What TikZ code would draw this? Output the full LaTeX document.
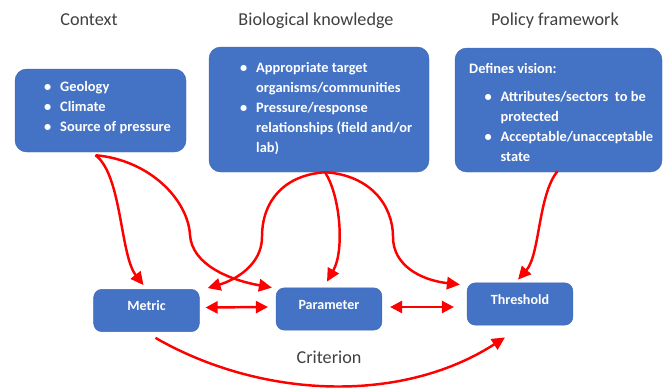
\documentclass[tikz,border=0pt]{standalone}
\usepackage{fontspec}
\setmainfont{Carlito}
\usetikzlibrary{arrows.meta, calc, fit}

\definecolor{boxblue}{HTML}{4472C4}
\definecolor{boxline}{HTML}{3F69B5}
\definecolor{headgray}{HTML}{404040}
\definecolor{linkred}{HTML}{FF0000}

% bullet and continuation indent for the box lists
\newcommand{\bpt}{\makebox[0.48cm][l]{\textbullet}}
\newcommand{\cont}{\hspace*{0.48cm}}

\begin{document}
\begin{tikzpicture}[x=0.03cm, y=-0.03cm,
  box/.style={rectangle, draw=boxline, fill=boxblue, rounded corners=10pt, inner sep=0pt},
  smallbox/.style={rectangle, draw=boxline, fill=boxblue, rounded corners=7pt,
                   minimum width=3.17cm, minimum height=1.27cm, text height=0.2cm, text depth=0.2cm,
                   text=white, font=\fontsize{12pt}{14pt}\selectfont\bfseries},
  txt/.style={anchor=north west, inner sep=0pt, align=left, text=white,
              font=\fontsize{12.3pt}{17pt}\selectfont\bfseries},
  title/.style={anchor=base, text=headgray, font=\fontsize{15.5pt}{18pt}\selectfont},
  arrow/.style={-{Triangle[length=0.39cm, width=0.37cm]}, linkred, line width=2.1pt},
  twoway/.style={{Triangle[length=0.36cm, width=0.36cm]}-{Triangle[length=0.36cm, width=0.36cm]},
                 linkred, line width=2.1pt}
]
\useasboundingbox (0,0) rectangle (664,387);

% Headings
\node[title] (ctxhead) at (89,25)  {Context};
\node[title] (biohead) at (316,25) {Biological knowledge};
\node[title] (polhead) at (555,25) {Policy framework};

% Top row — inputs
\node[box, fit={(15,69) (186,152)}]  (context) {};
\node[box, fit={(209,47) (429,172)}] (bio)     {};
\node[box, fit={(455,48) (662,172)}] (policy)  {};

\node[txt] (ctxtext) at (44,81)  {\bpt Geology\\ \bpt Climate\\ \bpt Source of pressure};
\node[txt] (biotext) at (240,62) {\bpt Appropriate target\\ \cont organisms/communities\\
                                   \bpt Pressure/response\\ \cont relationships (field and/or\\ \cont lab)};
\node[txt] (poltext) at (469,63) {Defines vision:\\[0.24cm]
                                   \hspace*{0.46cm}\bpt Attributes/sectors~ to be\\
                                   \hspace*{0.46cm}\cont protected\\
                                   \hspace*{0.46cm}\bpt Acceptable/unacceptable\\
                                   \hspace*{0.46cm}\cont state};

% Bottom row — criterion parts
\node[smallbox] (metric) at (146.5,310.5) {Metric};
\node[smallbox] (param)  at (329,309)     {Parameter};
\node[smallbox] (thresh) at (520,304)     {Threshold};

\node[title] (crit) at (329,363) {Criterion};

% Links from the inputs
\draw[arrow] ($(context.south)+(-5,3)$) .. controls (122,175) and (120,255) .. ($(metric.north)+(-3,-4)$);
\draw[arrow] ($(context.south)+(-5,3)$) .. controls (150,160) and (188,200) .. (190,235)
             .. controls (192,265) and (230,280) .. ($(param.north west)+(-4,0)$);
\draw[arrow] ($(bio.south)+(6,0)$) .. controls (285,175) and (262,200) .. (262,237)
             .. controls (262,265) and (235,280) .. ($(metric.north east)+(8,-1)$);
\draw[arrow] ($(bio.south)+(6,0)$) .. controls (340,195) and (345,250) .. ($(param.north)+(-2,-6)$);
\draw[arrow] ($(bio.south)+(6,0)$) .. controls (370,175) and (393,205) .. (393,237)
             .. controls (393,265) and (420,280) .. ($(thresh.north west)+(-7,2)$);
\draw[arrow] ($(policy.south)+(-1,-1)$) .. controls (538,195) and (540,255) .. ($(thresh.north)+(-2,-3)$);

% Links inside the criterion
\draw[twoway] ($(metric.east)+(6,-3)$) -- ($(param.west)+(-8,-2)$);
\draw[twoway] ($(param.east)+(8,-2)$)  -- ($(thresh.west)+(-13,3)$);
\draw[arrow] ($(metric.south)+(9,6)$) .. controls (260,398) and (400,405) .. ($(thresh.south)+(-15,12)$);
\end{tikzpicture}
\end{document}
